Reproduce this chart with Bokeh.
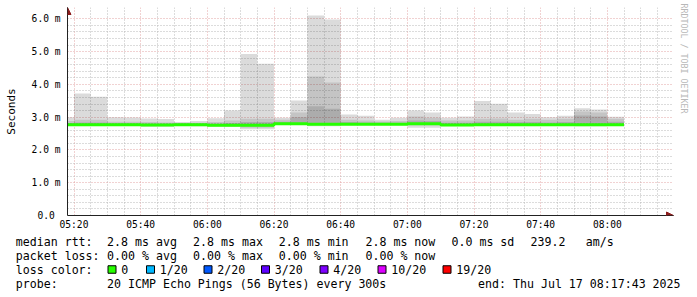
import numpy as np
from bokeh.plotting import figure
from bokeh.models import Range1d, FixedTicker, Arrow, NormalHead, Title
from bokeh.layouts import column
from bokeh.embed import file_html
from bokeh.resources import INLINE
from bokeh.core.properties import value

# ---------------- data ----------------
step_start = ["05:15", "05:20", "05:25", "05:30", "05:35", "05:40", "05:45", "05:50",
              "05:55", "06:00", "06:05", "06:10", "06:15", "06:20", "06:25", "06:30",
              "06:35", "06:40", "06:45", "06:50", "06:55", "07:00", "07:05", "07:10",
              "07:15", "07:20", "07:25", "07:30", "07:35", "07:40", "07:45", "07:50",
              "07:55", "08:00"]
step_minutes = 5

median_ms = [2.77, 2.77, 2.77, 2.77, 2.77, 2.76, 2.76, 2.77,
             2.77, 2.75, 2.75, 2.755, 2.755, 2.80, 2.80, 2.78,
             2.78, 2.78, 2.78, 2.78, 2.78, 2.80, 2.80, 2.76,
             2.76, 2.77, 2.77, 2.77, 2.77, 2.77, 2.77, 2.77,
             2.77, 2.77]
smoke_lo = [2.73, 2.73, 2.73, 2.74, 2.74, 2.71, 2.71, 2.74,
            2.72, 2.71, 2.70, 2.63, 2.63, 2.76, 2.76, 2.72,
            2.72, 2.75, 2.75, 2.75, 2.75, 2.68, 2.68, 2.73,
            2.73, 2.73, 2.73, 2.73, 2.73, 2.74, 2.74, 2.72,
            2.72, 2.73]
smoke_hi = [3.00, 3.72, 3.62, 3.00, 2.99, 2.96, 2.94, 2.85,
            2.88, 2.97, 3.20, 4.93, 4.63, 2.98, 3.51, 6.10,
            5.98, 3.08, 3.04, 2.92, 2.98, 3.20, 3.14, 2.98,
            3.02, 3.49, 3.41, 3.14, 3.10, 3.00, 3.04, 3.27,
            3.23, 3.01]
mid_lo = [2.75, 2.75, 2.75, 2.75, 2.75, 2.73, 2.73, 2.75,
          2.74, 2.73, 2.73, 2.68, 2.68, 2.78, 2.78, 2.75,
          2.75, 2.76, 2.76, 2.76, 2.76, 2.75, 2.75, 2.74,
          2.74, 2.75, 2.75, 2.75, 2.75, 2.75, 2.75, 2.75,
          2.75, 2.75]
mid_hi = [2.88, 2.92, 2.92, 2.86, 2.86, 2.85, 2.84, 2.82,
          2.83, 2.85, 2.90, 2.95, 2.95, 2.92, 3.14, 4.24,
          4.06, 2.92, 2.90, 2.87, 2.88, 3.02, 2.98, 2.90,
          2.90, 2.95, 2.96, 2.92, 2.95, 2.92, 2.95, 3.17,
          3.14, 2.95]
core_lo = [2.76, 2.76, 2.76, 2.76, 2.76, 2.74, 2.74, 2.76,
           2.75, 2.74, 2.74, 2.72, 2.72, 2.79, 2.79, 2.76,
           2.76, 2.77, 2.77, 2.77, 2.77, 2.77, 2.77, 2.75,
           2.75, 2.76, 2.76, 2.76, 2.76, 2.76, 2.76, 2.76,
           2.76, 2.76]
core_hi = [2.82, 2.84, 2.84, 2.81, 2.81, 2.80, 2.80, 2.80,
           2.80, 2.80, 2.82, 2.85, 2.85, 2.86, 3.00, 3.33,
           3.26, 2.85, 2.84, 2.83, 2.83, 2.90, 2.88, 2.83,
           2.83, 2.86, 2.86, 2.85, 2.85, 2.84, 2.85, 3.05,
           3.02, 2.86]

x_tick_labels = ["05:20", "05:40", "06:00", "06:20", "06:40", "07:00", "07:20", "07:40", "08:00"]
y_tick_values = [0, 1, 2, 3, 4, 5, 6]
y_tick_labels = ["0.0\u00a0", "1.0 m", "2.0 m", "3.0 m", "4.0 m", "5.0 m", "6.0 m"]
window_start = "05:18:03"
window_end = "08:18:03"
y_top = 6.162

loss_labels = ["0", "1/20", "2/20", "3/20", "4/20", "10/20", "19/20"]
loss_colors = ["#26ff00", "#00b8ff", "#0059ff", "#5e00ff", "#7e00ff", "#dd00ff", "#ff0000"]

legend_rows = [
    ["median rtt:", "2.8 ms avg", "2.8 ms max", "2.8 ms min", "2.8 ms now", "0.0 ms sd", "239.2", "am/s"],
    ["packet loss:", "0.00 % avg", "0.00 % max", "0.00 % min", "0.00 % now"],
    ["loss color:"],
    ["probe:", "20 ICMP Echo Pings (56 Bytes) every 300s", "end: Thu Jul 17 08:17:43 2025"],
]

# ---------------- helpers ----------------
def to_min(s):
    parts = [int(v) for v in s.split(":")]
    m = parts[0] * 60 + parts[1]
    if len(parts) > 2:
        m += parts[2] / 60.0
    return m

x0 = np.array([to_min(s) for s in step_start], dtype=float)
xs = np.append(x0, x0[-1] + step_minutes)

def ext(a):
    a = list(a)
    return a + [a[-1]]

X0 = to_min(window_start)
X1 = to_min(window_end)
MONO = "DejaVu Sans Mono"
PX_PER_MIN = 600.0 / (X1 - X0)
PX_PER_MS = 32.78
ARROW_PX = 6

# ---------------- main graph ----------------
p = figure(width=697, height=232,
           x_range=Range1d(X0, X1 + ARROW_PX / PX_PER_MIN),
           y_range=Range1d(0, y_top + ARROW_PX / PX_PER_MS),
           output_backend="svg", toolbar_location=None,
           min_border_left=67, min_border_right=24, min_border_top=7, min_border_bottom=17)
p.frame_align = False
p.outline_line_color = None
p.background_fill_color = "white"
p.border_fill_color = "white"

x_major = [to_min(l) for l in x_tick_labels]
x_minor = [m for m in np.arange(x_major[0] - 5, X1, 5) if m not in x_major and m > X0]
y_minor = [round(v, 2) for v in np.arange(0.2, y_top, 0.2) if abs(v - round(v)) > 1e-6]

p.xaxis.ticker = FixedTicker(ticks=x_major, minor_ticks=x_minor)
p.yaxis.ticker = FixedTicker(ticks=y_tick_values, minor_ticks=y_minor)
p.xaxis.major_label_overrides = {m: l for m, l in zip(x_major, x_tick_labels)}
p.yaxis.major_label_overrides = {v: l for v, l in zip(y_tick_values, y_tick_labels)}

for ax in (p.xaxis, p.yaxis):
    ax.axis_line_color = "#222222"
    ax.axis_line_width = 1
    ax.major_tick_out = 0
    ax.major_tick_in = 0
    ax.minor_tick_out = 0
    ax.minor_tick_in = 0
    ax.major_label_text_font = MONO
    ax.major_label_text_font_size = "9.6px"
    ax.major_label_text_color = "#000000"
p.xaxis.major_label_standoff = 3
p.yaxis.major_label_standoff = 7
p.yaxis.axis_label = "Seconds"
p.yaxis.axis_label_text_font = MONO
p.yaxis.axis_label_text_font_size = "11px"
p.yaxis.axis_label_text_font_style = "normal"
p.yaxis.axis_label_text_color = "#000000"
p.yaxis.axis_label_standoff = 11

for g in (p.xgrid, p.ygrid):
    g.grid_line_color = "#e2a4a4"
    g.grid_line_dash = "1 2"
    g.grid_line_width = 1
    g.minor_grid_line_color = "#b8b8b8"
    g.minor_grid_line_dash = "1 2"
    g.minor_grid_line_width = 1
p.xgrid.bounds = (0, y_top)
p.ygrid.bounds = (X0, X1)

# smoke layers
p.varea_step(x=xs, y1=ext(smoke_lo), y2=ext(smoke_hi), step_mode="after",
             fill_color="#000000", fill_alpha=0.14)
p.varea_step(x=xs, y1=ext(mid_lo), y2=ext(mid_hi), step_mode="after",
             fill_color="#000000", fill_alpha=0.10)
p.varea_step(x=xs, y1=ext(core_lo), y2=ext(core_hi), step_mode="after",
             fill_color="#000000", fill_alpha=0.12)

# median line
p.step(x=xs, y=ext(median_ms), mode="after", line_color=loss_colors[0], line_width=3)

# axis arrows
arrow_c = "#8c1c1c"
p.add_layout(Arrow(end=NormalHead(size=7, fill_color=arrow_c, line_color=arrow_c, line_width=1),
                   x_start=X0, y_start=y_top - 0.01, x_end=X0, y_end=y_top + ARROW_PX / PX_PER_MS,
                   line_color="#222222", line_width=1))
p.add_layout(Arrow(end=NormalHead(size=7, fill_color=arrow_c, line_color=arrow_c, line_width=1),
                   x_start=X1 - 0.05, y_start=0, x_end=X1 + ARROW_PX / PX_PER_MIN, y_end=0,
                   line_color="#222222", line_width=1))

# watermark on the right edge
p.add_layout(Title(text="RRDTOOL / TOBI OETIKER", align="left", offset=-4, standoff=10,
                   text_font=MONO, text_font_size="8.3px", text_font_style="normal",
                   text_color="#b8b8b8"), "right")

# ---------------- legend block ----------------
lg = figure(width=697, height=65, x_range=Range1d(0, 697), y_range=Range1d(65, 0),
            output_backend="svg", toolbar_location=None,
            x_axis_type=None, y_axis_type=None, min_border=0)
lg.frame_align = False
lg.outline_line_color = None
lg.background_fill_color = "white"
lg.border_fill_color = "white"
lg.grid.visible = False

row_y = [9, 23, 37, 51.3]
col_x = [
    [16, 107.3, 193.3, 279, 365.7, 451.7, 530.7, 586],
    [16, 107.3, 193.3, 279, 365.7],
    [16],
    [16, 107.3, 478.3],
]
tx, ty, tt = [], [], []
for r, texts in enumerate(legend_rows):
    for t, cx in zip(texts, col_x[r]):
        tx.append(cx - 0.7)
        ty.append(row_y[r])
        tt.append(t)

sq_left = [107.5, 146, 203.5, 261, 319.5, 377.5, 442.5]
for i, lab in enumerate(loss_labels):
    tx.append(sq_left[i] + 13.3)
    ty.append(row_y[2])
    tt.append(lab)

lg.text(x=tx, y=ty, text=tt, text_font=value(MONO), text_font_size=value("11.6px"),
        text_baseline="middle", text_align="left", text_color="#000000")
lg.rect(x=[s + 4 for s in sq_left], y=[row_y[2]] * len(sq_left), width=8, height=7.5,
        fill_color=loss_colors, line_color="#000000", line_width=1)

layout = column(p, lg, spacing=0)
open("out.html", "w").write(file_html(layout, INLINE))
